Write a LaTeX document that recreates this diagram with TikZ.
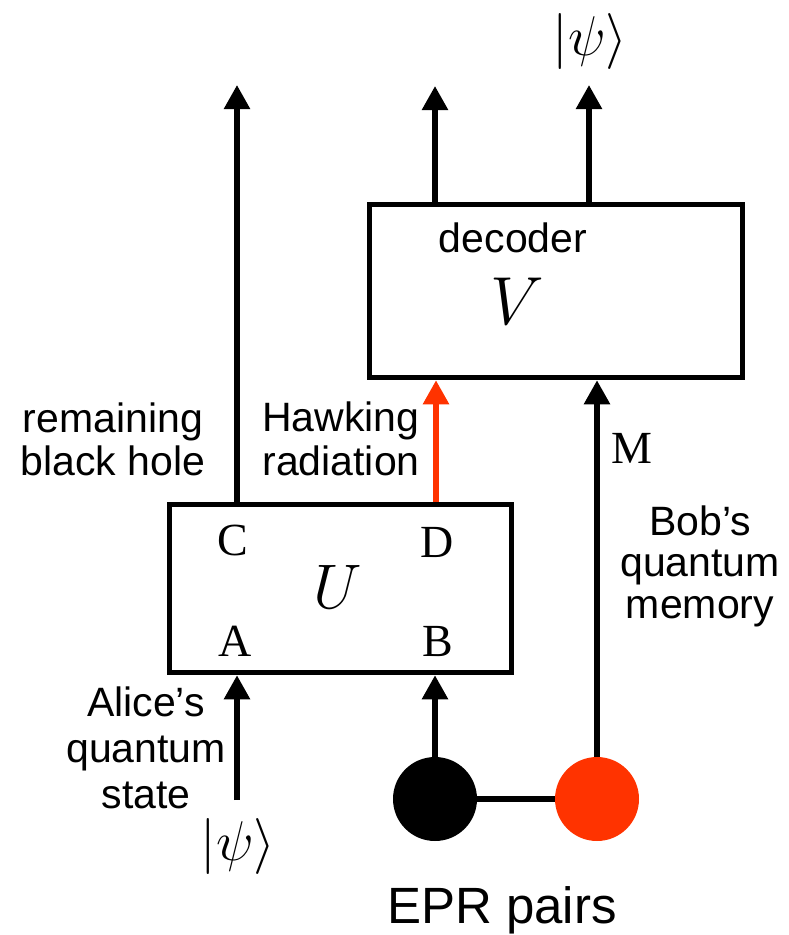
\RequirePackage{fix-cm}
\documentclass[tikz,border=0pt]{standalone}
\usepackage{fontspec}
\setsansfont{Liberation Sans}
\newfontfamily\tms{Liberation Serif}
\usetikzlibrary{arrows.meta}
\definecolor{epred}{RGB}{255,51,0}
\begin{document}
\begin{tikzpicture}[x=1pt,y=-1pt,
  wire/.style={line width=5.5pt},
  arr/.style={wire,-{Triangle[width=25pt,length=24pt]}},
  gate/.style={draw,line width=5.5pt,inner sep=0pt},
  lbl/.style={font=\sffamily\fontsize{41}{43}\selectfont,align=center,inner sep=0pt},
  port/.style={font=\tms\fontsize{46}{46}\selectfont,anchor=base,inner sep=0pt},
  ket/.style={font=\fontsize{56}{56}\selectfont,inner sep=0pt},
  qubit/.style={circle,minimum size=84pt,inner sep=0pt}
]
\useasboundingbox (0,0) rectangle (789,935);
\node[gate,minimum width=342pt,minimum height=168pt] (U) at (340.5,588.5) {};
\node[gate,minimum width=373pt,minimum height=173pt] (V) at (556,291) {};
\coordinate (tC) at (237,85);
\coordinate (tD1) at (435,86);
\coordinate (tD2) at (589,85);
\coordinate (xD) at (436,0);
\coordinate (inA) at (237,800);
\node[qubit,fill=black] (b1) at (435,799) {};
\node[qubit,fill=epred] (b2) at (597,799) {};
\draw[arr] (U.north -| tC) -- (tC);
\draw[arr] (V.north -| tD1) -- (tD1);
\draw[arr] (V.north -| tD2) -- (tD2);
\draw[arr,epred] (U.north -| xD) -- (V.south -| xD);
\draw[arr] (b2) -- (V.south -| b2);
\draw[arr] (b1) -- (U.south -| b1);
\draw[arr] (inA) -- (U.south -| inA);
\draw[wire] (b1) -- (b2);
\node[lbl] (rbh) at (113,439.5) {remaining\\black hole};
\node[lbl,font=\sffamily\fontsize{41}{44}\selectfont] (hr) at (341,439) {Hawking\\radiation};
\node[lbl,font=\sffamily\fontsize{41}{46}\selectfont] (alice) at (146,748) {Alice’s\\quantum\\state};
\node[lbl,font=\sffamily\fontsize{41}{41.5}\selectfont] (bob) at (700,566) {Bob’s\\quantum\\memory};
\node[port] (C) at (233,555) {C};
\node[port] (D) at (437,557) {D};
\node[port] (A) at (235,656) {A};
\node[port] (B) at (438,656) {B};
\node[port] (M) at (632,463) {M};
\node[font=\sffamily\fontsize{41}{41}\selectfont,anchor=base,inner sep=0pt] (dec) at (513,252) {decoder};
\node[anchor=base,inner sep=0pt,font=\fontsize{68}{68}\selectfont] (Vl) at (517,324) {$V$};
\node[anchor=base,inner sep=0pt,font=\fontsize{63}{63}\selectfont] (Ul) at (338,608) {$U$};
\node[ket] (psiT) at (590,41) {$|\psi\rangle$};
\node[ket] (psiB) at (238,846) {$|\psi\rangle$};
\node[font=\sffamily\fontsize{51}{51}\selectfont,anchor=base,inner sep=0pt] (epr) at (502,923) {EPR pairs};
\end{tikzpicture}
\end{document}
